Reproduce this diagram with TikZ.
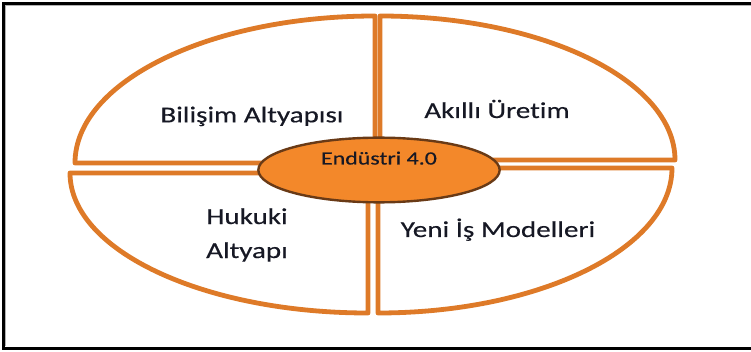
\documentclass[tikz,border=0pt]{standalone}
\usepackage{fontspec}
\setmainfont{Carlito}[FakeStretch=1.28,FakeBold=0.4,Ligatures=NoCommon]
\usepackage{tikz}
\usetikzlibrary{positioning,shapes.geometric}

\definecolor{ringorange}{RGB}{222,122,40}
\definecolor{huborange}{RGB}{243,136,42}
\definecolor{hubedge}{RGB}{105,58,22}
\definecolor{labelink}{RGB}{22,24,36}

\tikzset{
  frameline/.style={line width=2.6pt,black},
  part/.style={draw=ringorange,line width=3.6pt,fill=white,line join=round},
  hub/.style={ellipse,draw=hubedge,fill=huborange,line width=1.8pt,
    minimum width=181pt,minimum height=48.5pt,inner sep=0pt},
  lbl/.style={font=\fontsize{17}{25.5}\selectfont,text=labelink,anchor=base,align=center},
  hublbl/.style={font=\fontsize{14}{16}\selectfont,text=labelink,anchor=base}
}

\begin{document}
\begin{tikzpicture}[x=0.75pt,y=0.75pt]

  \useasboundingbox (0,0) rectangle (751,351);

  % frame
  \draw[frameline] (751,347.7) -- (3.3,347.7) -- (3.3,2.7) -- (751,2.7);
  \draw[gray!60,line width=1pt] (751,345.3) -- (5.6,345.3) -- (5.6,5);

  % four parts of the ring
  \draw[part] (375,188) -- (75,188) arc[start angle=180,end angle=90,x radius=300,y radius=147] -- cycle;
  \draw[part] (380,191) -- (380,335) arc[start angle=90,end angle=0,x radius=295,y radius=144] -- cycle;
  \draw[part] (368,178) -- (70,178) arc[start angle=180,end angle=270,x radius=298,y radius=140] -- cycle;
  \draw[part] (378,183) -- (672,183) arc[start angle=0,end angle=-90,x radius=294,y radius=145] -- cycle;

  \node[hub] (hub) at (379,181) {};

  \node[lbl] (bilisim) at (252,228.7) {Bilişim Altyapısı};
  \node[lbl] (akilli) at (497,233) {Akıllı Üretim};
  \node[lbl] (hukuki) at (247,93) {Hukuki\\Altyapı};
  \node[lbl] (yeni) at (498,114) {Yeni İş Modelleri};
  \node[hublbl] (endustri) at (379,186.5) {Endüstri 4.0};

\end{tikzpicture}
\end{document}
